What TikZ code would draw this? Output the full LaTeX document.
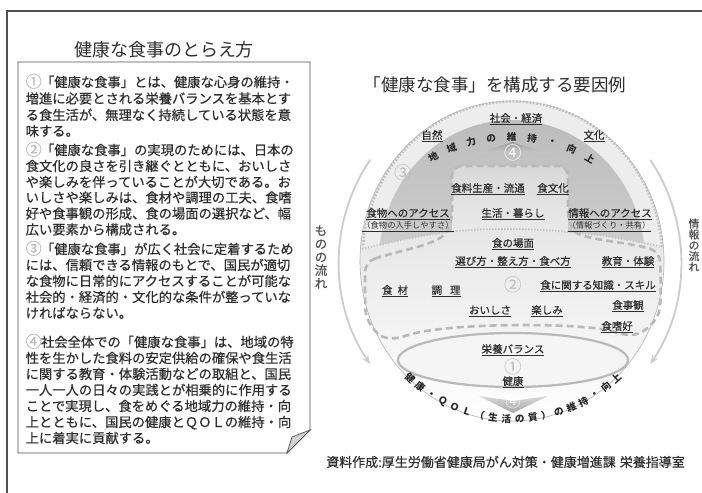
\documentclass[tikz,border=0pt]{standalone}
\usepackage{fontspec}
\setmainfont{Noto Sans CJK JP}
\newfontfamily\jpm[FakeBold=0.45]{Noto Sans CJK JP}
\usetikzlibrary{arrows.meta}
\definecolor{ink}{HTML}{2E2E2E}
\definecolor{rulec}{HTML}{505050}
\tikzset{
  ttxt/.style={inner sep=0pt, text=ink},
  tbody/.style={ttxt, anchor=base west, font=\jpm\fontsize{13.3}{16}\selectfont},
  tlbl/.style={ttxt, anchor=base, font=\jpm\fontsize{10.5}{12}\selectfont},
  tsub/.style={ttxt, anchor=base, font=\fontsize{8.3}{10}\selectfont},
  tnum/.style={ttxt, font=\fontsize{17.5}{17.5}\selectfont, text=gray!55},
  twnum/.style={tnum, text=white},
  tarc/.style={ttxt, font=\bfseries\fontsize{9.6}{10}\selectfont, text=black!85},
  tflow/.style={draw=gray!40, line width=1.8pt, -{Stealth[length=9pt,width=7pt]}},
  tdash/.style={draw=gray!55, line width=2.6pt, dash pattern=on 7pt off 4pt},
  tdotb/.style={draw=gray!50, line width=2.6pt, dash pattern=on 1.6pt off 1.8pt},
  tdots/.style={draw=gray!45, line width=2pt, dash pattern=on 1.3pt off 1.7pt},
  tvert/.style={ttxt, align=center, text=ink!85},
}
\newcommand{\gn}[1]{\makebox[1.15em][l]{\raisebox{-0.4pt}{\fontsize{16}{16}\selectfont\textcolor{gray!55}{#1}}}}
\begin{document}
\begin{tikzpicture}[x=1pt,y=-1pt]
\useasboundingbox (0,0) rectangle (702,493);
% outer frame
\draw[rulec, line width=1.3pt] (7,493) -- (7,11) -- (702,11);
% left box with folded corner
\draw[rulec, line width=0.9pt, fill=white] (18,62) -- (310,62) -- (310,430) -- (287,453) -- (18,453) -- cycle;
\filldraw[fill=gray!35, draw=rulec, line width=0.7pt] (310,430) -- (292,437) -- (287,453) -- cycle;
% titles
\node[ttxt, font=\fontsize{18}{18}\selectfont] (ltitle) at (164,50) {健康な食事のとらえ方};
\node[ttxt, font=\fontsize{17.5}{18}\selectfont] (rtitle) at (495,85) {「健康な食事」を構成する要因例};
% box text
\foreach \ly/\lt [count=\i] in {
 82/{\gn{①}「健康な食事」とは、健康な心身の維持・},
 98.5/{増進に必要とされる栄養バランスを基本とす},
 115/{る食生活が、無理なく持続している状態を意},
 131/{味する。},
 150/{\gn{②}「健康な食事」の実現のためには、日本の},
 166/{食文化の良さを引き継ぐとともに、おいしさ},
 182/{や楽しみを伴っていることが大切である。お},
 197.5/{いしさや楽しみは、食材や調理の工夫、食嗜},
 213.5/{好や食事観の形成、食の場面の選択など、幅},
 229.5/{広い要素から構成される。},
 249/{\gn{③}「健康な食事」が広く社会に定着するため},
 265/{には、信頼できる情報のもとで、国民が適切},
 281/{な食物に日常的にアクセスすることが可能な},
 297/{社会的・経済的・文化的な条件が整っていな},
 313/{ければならない。},
 342/{\gn{④}社会全体での「健康な食事」は、地域の特},
 358/{性を生かした食料の安定供給の確保や食生活},
 374/{に関する教育・体験活動などの取組と、国民},
 390/{一人一人の日々の実践とが相乗的に作用する},
 406/{ことで実現し、食をめぐる地域力の維持・向},
 422/{上とともに、国民の健康とＱＯＬの維持・向},
 438/{上に着実に貢献する。}}{
  \node[tbody] (bl\i) at (25.5,\ly+5) {\lt};
}
% flow arcs
\coordinate (lfs) at (370.1,159.9);
\coordinate (rfs) at (650.3,159.9);
\draw[tflow] (lfs) arc[start angle=215, end angle=145, x radius=172, y radius=178];
\draw[tflow] (rfs) arc[start angle=-35, end angle=35, x radius=170, y radius=178];
\node[tvert, font=\jpm\fontsize{12.5}{13.2}\selectfont] (mono) at (321,257) {も\\の\\の\\流\\れ};
\node[tvert, font=\jpm\fontsize{10.8}{10.8}\selectfont] (joho) at (694,245) {情\\報\\の\\流\\れ};
% disk
\shade[top color=gray!32, bottom color=white, draw=gray!60, line width=0.6pt] (512,261) ellipse [x radius=152, y radius=160];
% cap region (3)
\begin{scope}
\clip (362,249) .. controls (420,235) and (455,229) .. (505,229) .. controls (565,229) and (620,237) .. (662,247) arc[start angle=-4.5, end angle=-175.5, x radius=150, y radius=158] -- cycle;
\fill[gray!14] (300,80) rectangle (720,270);
\shade[top color=gray!52, bottom color=gray!24] (512,261) ellipse [x radius=133, y radius=141];
\shade[top color=gray!30, bottom color=gray!14, rounded corners=12pt] (452,245) -- (452,166) -- (568,166) -- (568,245) -- cycle;
\end{scope}
\draw[tdotb] (662,247) arc[start angle=-4.5, end angle=-175.5, x radius=150, y radius=158];
\draw[tdots] (362,249) .. controls (420,235) and (455,229) .. (505,229) .. controls (565,229) and (620,237) .. (662,247);
% dashed region (2)
\draw[tdash, rounded corners=10pt] (365,262) .. controls (400,250) and (440,245) .. (452,222) -- (452,166) -- (568,166) -- (568,222) .. controls (580,240) and (630,242) .. (660,252) -- (661,300) .. controls (658,320) and (645,333) .. (625,336) .. controls (590,322) and (440,322) .. (395,340) .. controls (375,335) and (366,320) .. (365,300) -- cycle;
% ellipse (1)
\draw[line width=2.2pt, draw=gray!55, fill=white!92!gray] (513,360) ellipse [x radius=115, y radius=27];
% chevrons (4)
\shade[top color=gray!75, bottom color=gray!40] (476,154) -- (512,142) -- (550,154) -- (512,149) -- cycle;
\shade[top color=gray!30, bottom color=gray!70] (479,396) -- (513,401) -- (548,396) -- (513,413) -- cycle;
% numbers
\node[tnum] (n3) at (403,173) {③};
\node[twnum] (n4t) at (513,153) {④};
\node[tnum] (n2) at (513,285) {②};
\node[tnum] (n1) at (513,367) {①};
\node[twnum, font=\fontsize{15}{15}\selectfont] (n4b) at (513,402) {④};
% labels
\node[tlbl] (shakai) at (516,122) {\underline{社会・経済}};
\node[tlbl] (shizen) at (432,139) {\underline{自然}};
\node[tlbl] (bunka) at (594,139) {\underline{文化}};
\node[tlbl] (seisan) at (488,192) {\underline{食料生産・流通}};
\node[tlbl] (shokubunka) at (553,192) {\underline{食文化}};
\node[tlbl] (access1) at (408,217) {\underline{食物へのアクセス}};
\node[tlbl] (seikatsu) at (513,217) {\underline{生活・暮らし}};
\node[tlbl] (access2) at (610,217) {\underline{情報へのアクセス}};
\node[tsub] (sub1) at (408,228.5) {\underline{（食物の入手しやすさ）}};
\node[tsub] (sub2) at (609,228.5) {\underline{（情報づくり・共有）}};
\node[tlbl] (bamen) at (513,247) {\underline{食の場面}};
\node[tlbl] (erabi) at (513,265) {\underline{選び方・整え方・食べ方}};
\node[tlbl] (kyoiku) at (628,265) {\underline{教育・体験}};
\node[tlbl] (chishiki) at (598,289) {\underline{食に関する知識・スキル}};
\node[tlbl] (shokuzai) at (395,294) {\underline{食\hspace{5pt}材}};
\node[tlbl] (chori) at (446,294) {\underline{調\hspace{8pt}理}};
\node[tlbl] (oishisa) at (490,314) {\underline{おいしさ}};
\node[tlbl] (tanoshimi) at (547,314) {\underline{楽しみ}};
\node[tlbl] (shokujikan) at (628,309) {\underline{食事観}};
\node[tlbl] (shikoh) at (617,330) {\underline{食嗜好}};
\node[tlbl] (eiyo) at (513,353) {\underline{栄養バランス}};
\node[tlbl] (kenko) at (513,385) {\underline{健康}};
% arc texts
\foreach \c [count=\i] in {地,域,力,の,維,持,・,向,上}{
  \pgfmathsetmacro\ang{119.3-(\i-1)*7.39}
  \node[tarc, rotate=\ang-90] (ta\i) at ({511+159*cos(\ang)},{296-159*sin(\ang)}) {\c};
}
\foreach \c [count=\i] in {健,康,・,Ｑ,Ｏ,Ｌ,（,生,活,の,質,）,の,維,持,・,向,上}{
  \pgfmathsetmacro\ang{-133+(\i-1)*86/17}
  \node[tarc, rotate=\ang+90] (qa\i) at ({513+151*cos(\ang)},{268-151*sin(\ang)}) {\c};
}
% source
\node[ttxt, font=\jpm\fontsize{13}{13}\selectfont] (src) at (505.5,462) {資料作成:厚生労働省健康局がん対策・健康増進課\hspace{4pt}栄養指導室};
\end{tikzpicture}
\end{document}
